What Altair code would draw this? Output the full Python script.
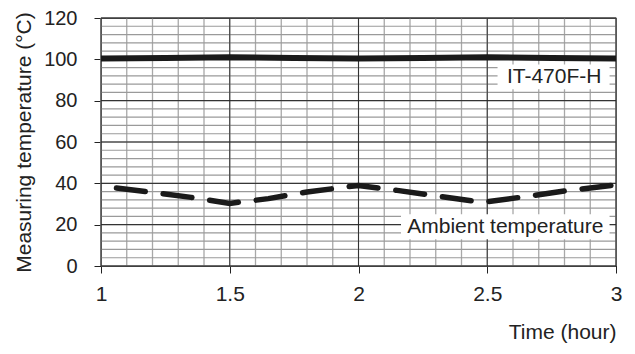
import altair as alt
import pandas as pd
import numpy as np

# Data
it_time = [1.0, 1.25, 1.5, 1.75, 2.0, 2.25, 2.5, 2.75, 3.0]
it_temp = [100.4, 100.6, 101.0, 100.7, 100.4, 100.6, 101.0, 100.6, 100.4]

amb_time = [1.06, 1.2, 1.35, 1.5, 1.65, 1.8, 2.0, 2.15, 2.3, 2.48, 2.65, 2.8, 3.0]
amb_temp = [37.7, 35.6, 33.2, 30.3, 32.6, 35.8, 39.0, 36.6, 34.0, 30.8, 33.6, 36.3, 39.2]

x_major = [1.0, 1.5, 2.0, 2.5, 3.0]
y_major = [0, 20, 40, 60, 80, 100, 120]
x_minor = [round(v, 2) for v in np.arange(1.0, 3.0001, 0.1)]
y_minor = list(range(0, 121, 4))

labels = ["IT-470F-H", "Ambient temperature"]
label_x = [2.76, 2.57]
label_y = [91.5, 19.0]
box_x1 = [2.54, 2.165]
box_x2 = [2.975, 2.975]
box_y1 = [85.5, 13.0]
box_y2 = [97.5, 25.0]

xs = alt.Scale(domain=[1, 3], nice=False, zero=False)
ys = alt.Scale(domain=[0, 120], nice=False)

it_df = pd.DataFrame({"t": it_time, "v": it_temp})
amb_df = pd.DataFrame({"t": amb_time, "v": amb_temp})
xmin_df = pd.DataFrame({"t": x_minor})
ymin_df = pd.DataFrame({"v": y_minor})
xmaj_df = pd.DataFrame({"t": x_major})
ymaj_df = pd.DataFrame({"v": y_major})
lab_df = pd.DataFrame({"label": labels, "x": label_x, "y": label_y,
                       "x1": box_x1, "x2": box_x2, "y1": box_y1, "y2": box_y2})

FONT = "Liberation Sans"
FS = 21

x_axis = alt.Axis(values=x_major, format="~g", title="Time (hour)", grid=False,
                  domainColor="#222", tickColor="#222", tickSize=7, labelPadding=10,
                  labelFontSize=FS, labelColor="#222", labelFont=FONT,
                  titleFont=FONT, titleFontSize=FS, titleFontWeight="normal", titleColor="#222",
                  titleAnchor="end", titlePadding=17, labelFlush=False)
y_axis = alt.Axis(values=y_major, title="Measuring temperature (°C)", grid=False,
                  domainColor="#222", tickColor="#222", tickSize=7, labelPadding=17,
                  labelFontSize=20, labelColor="#222", labelFont=FONT,
                  titleFont=FONT, titleFontSize=FS, titleFontWeight="normal", titleColor="#222",
                  titlePadding=9)

vminor = alt.Chart(xmin_df).mark_rule(color="#a8a8a8", strokeWidth=1.3).encode(
    x=alt.X("t:Q", scale=xs, axis=x_axis))
hminor = alt.Chart(ymin_df).mark_rule(color="#9a9a9a", strokeWidth=1.2).encode(
    y=alt.Y("v:Q", scale=ys, axis=y_axis))
vmajor = alt.Chart(xmaj_df).mark_rule(color="#333", strokeWidth=1).encode(
    x=alt.X("t:Q", scale=xs))
hmajor = alt.Chart(ymaj_df).mark_rule(color="#222", strokeWidth=1).encode(
    y=alt.Y("v:Q", scale=ys))

it_line = alt.Chart(it_df).mark_line(color="#1a1a1a", strokeWidth=6).encode(
    x=alt.X("t:Q", scale=xs), y=alt.Y("v:Q", scale=ys))
amb_line = alt.Chart(amb_df).mark_line(color="#1a1a1a", strokeWidth=5.5,
                                       strokeDash=[29, 18], strokeCap="round").encode(
    x=alt.X("t:Q", scale=xs), y=alt.Y("v:Q", scale=ys))

boxes = alt.Chart(lab_df).mark_rect(color="white").encode(
    x=alt.X("x1:Q", scale=xs), x2="x2:Q",
    y=alt.Y("y1:Q", scale=ys), y2="y2:Q")
texts = alt.Chart(lab_df).mark_text(font=FONT, fontSize=FS, color="#222",
                                    align="center", baseline="middle").encode(
    x=alt.X("x:Q", scale=xs), y=alt.Y("y:Q", scale=ys), text="label:N")

chart = alt.layer(vminor, hminor, vmajor, hmajor, it_line, amb_line, boxes, texts).properties(
    width=515, height=248,
    autosize=alt.AutoSizeParams(type="none"),
    padding={"left": 93, "top": 10, "right": 11, "bottom": 80},
).configure_view(stroke="#222", strokeWidth=1.2)

chart.save("out.html", embed_options={"renderer": "svg", "actions": False})
